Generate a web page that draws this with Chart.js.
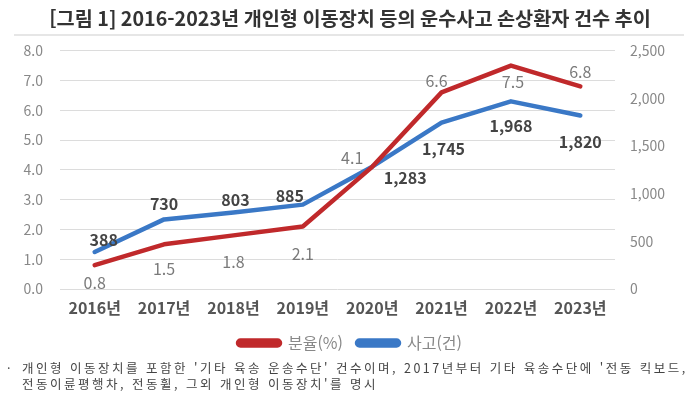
<!DOCTYPE html>
<html lang="ko">
<head>
<meta charset="utf-8">
<script src="https://cdn.jsdelivr.net/npm/chart.js@4.4.1/dist/chart.umd.min.js"></script>
<style>
  html, body { margin: 0; padding: 0; background: #fff; }
  #wrap { position: relative; width: 700px; height: 396px; }
  #note {
    position: absolute; left: 7px; top: 360px;
    font-family: "Noto Sans CJK KR", sans-serif; font-size: 12.5px; line-height: 16px;
    color: #444; letter-spacing: 2.5px; white-space: nowrap;
  }
  #note span { display: inline-block; width: 15px; }
</style>
</head>
<body>
<div id="wrap">
  <canvas id="accidentChart" width="700" height="396"></canvas>
  <div id="note"><span>·</span>개인형 이동장치를 포함한 '기타 육송 운송수단' 건수이며, 2017년부터 기타 육송수단에 '전동 킥보드,<br><span></span>전동이륜평행차, 전동휠, 그외 개인형 이동장치'를 명시</div>
</div>
<script>
const years = ["2016년", "2017년", "2018년", "2019년", "2020년", "2021년", "2022년", "2023년"];
const rateValues = [0.8, 1.5, 1.8, 2.1, 4.1, 6.6, 7.5, 6.8];
const accidentValues = [388, 730, 803, 885, 1283, 1745, 1968, 1820];
const rateTicks = [0, 1, 2, 3, 4, 5, 6, 7, 8];
const accidentTicks = [0, 500, 1000, 1500, 2000, 2500];

// label offsets (px) from each point, so labels sit where the original puts them
const rateLabelOffsets = [[0, 18], [0, 25], [0, 27], [0, 27], [-20, -9], [-5, -11], [2, 16], [0, -14]];
const accidentLabelOffsets = [[9, -12], [0, -15], [2, -13], [-13, -9], [33, 11], [2, 26], [0, 25], [0, 26]];

const FONT = "'Noto Sans CJK KR', 'Noto Sans', sans-serif";
const RED = "#c0292b";
const BLUE = "#3a78c6";

const pointLabels = {
  id: "pointLabels",
  afterDatasetsDraw(chart) {
    const ctx = chart.ctx;
    const styles = [
      { offsets: rateLabelOffsets, font: "400 16px " + FONT, color: "#7a7a7a", fmt: v => v.toFixed(1) },
      { offsets: accidentLabelOffsets, font: "700 16px " + FONT, color: "#444", fmt: v => v.toLocaleString("en-US") }
    ];
    ctx.save();
    ctx.textAlign = "center";
    ctx.textBaseline = "middle";
    chart.data.datasets.forEach(function (ds, i) {
      const meta = chart.getDatasetMeta(i);
      const st = styles[i];
      ctx.font = st.font;
      ctx.fillStyle = st.color;
      meta.data.forEach(function (pt, j) {
        const off = st.offsets[j];
        ctx.fillText(st.fmt(ds.data[j]), pt.x + off[0], pt.y + off[1]);
      });
    });
    ctx.restore();
  }
};

const titleRule = {
  id: "titleRule",
  beforeDraw(chart) {
    const ctx = chart.ctx;
    ctx.save();
    ctx.strokeStyle = "#e6e6e6";
    ctx.lineWidth = 2;
    ctx.beginPath();
    ctx.moveTo(14, 35);
    ctx.lineTo(684, 35);
    ctx.stroke();
    ctx.restore();
  }
};

new Chart(document.getElementById("accidentChart"), {
  type: "line",
  data: {
    labels: years,
    datasets: [
      {
        label: "분율(%)",
        data: rateValues,
        yAxisID: "y",
        borderColor: RED,
        backgroundColor: RED,
        borderWidth: 4.5,
        pointRadius: 0,
        tension: 0,
        borderCapStyle: "round",
        borderJoinStyle: "round"
      },
      {
        label: "사고(건)",
        data: accidentValues,
        yAxisID: "y1",
        borderColor: BLUE,
        backgroundColor: BLUE,
        borderWidth: 4.5,
        pointRadius: 0,
        tension: 0,
        borderCapStyle: "round",
        borderJoinStyle: "round"
      }
    ]
  },
  options: {
    responsive: false,
    animation: false,
    layout: { padding: { left: 0, right: 0, top: 0, bottom: 35 } },
    plugins: {
      title: {
        display: true,
        text: "[그림 1] 2016-2023년 개인형 이동장치 등의 운수사고 손상환자 건수 추이",
        color: "#333",
        font: { family: FONT, size: 19.7, weight: "bold" },
        padding: { top: 7, bottom: 20 }
      },
      legend: {
        position: "bottom",
        labels: {
          color: "#888",
          font: { family: FONT, size: 16 },
          boxWidth: 42,
          boxHeight: 5,
          useBorderRadius: true,
          borderRadius: 2.5,
          padding: 14
        }
      },
      tooltip: { enabled: false }
    },
    scales: {
      x: {
        offset: true,
        grid: { display: false, drawTicks: false },
        border: { display: false },
        ticks: { color: "#555", font: { family: FONT, size: 16, weight: "bold" }, padding: 9 },
        afterFit(scale) { scale.height = 32; }
      },
      y: {
        position: "left",
        min: 0,
        max: 8,
        afterBuildTicks(scale) { scale.ticks = rateTicks.map(v => ({ value: v })); },
        ticks: { color: "#888", font: { family: FONT, size: 14 }, padding: 17, callback: v => v.toFixed(1) },
        grid: { color: "#dcdcdc", lineWidth: 1, drawTicks: false },
        border: { display: false },
        afterFit(scale) { scale.width = 60; }
      },
      y1: {
        position: "right",
        min: 0,
        max: 2500,
        afterBuildTicks(scale) { scale.ticks = accidentTicks.map(v => ({ value: v })); },
        ticks: { color: "#888", font: { family: FONT, size: 14 }, padding: 15, callback: v => v.toLocaleString("en-US") },
        grid: { display: false, drawTicks: false },
        border: { display: false },
        afterFit(scale) { scale.width = 85; }
      }
    }
  },
  plugins: [pointLabels, titleRule]
});
</script>
</body>
</html>
